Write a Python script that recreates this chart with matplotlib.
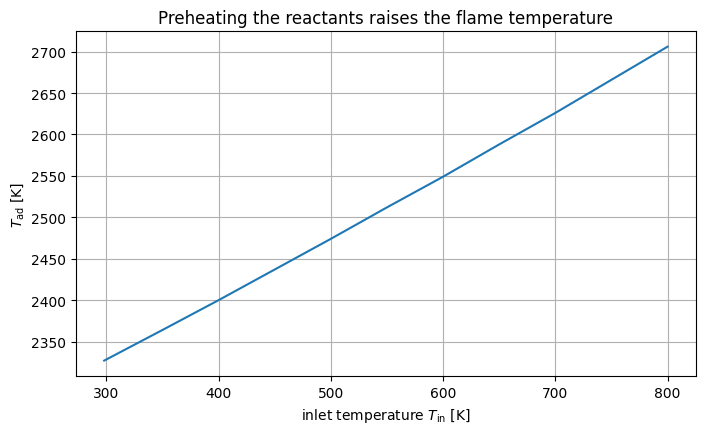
import matplotlib
matplotlib.use("Agg")
import matplotlib.pyplot as plt

# inlet temperature [K] and adiabatic flame temperature [K]
T_in = [298, 350, 400, 450, 500, 550, 600, 650, 700, 750, 800]
T_ad = [2327, 2364, 2400, 2437, 2474, 2512, 2549, 2588, 2626, 2666, 2706]

fig, ax = plt.subplots(figsize=(7.05, 4.31), dpi=100)
fig.subplots_adjust(left=0.1078, right=0.9868, top=0.9258, bottom=0.1246)
ax.plot(T_in, T_ad)
ax.set_xlabel(r"inlet temperature $T_{\rm in}$ [K]")
ax.set_ylabel(r"$T_{\rm ad}$ [K]")
ax.set_title("Preheating the reactants raises the flame temperature")
ax.grid(True)
fig.savefig("out.png", dpi=100)
